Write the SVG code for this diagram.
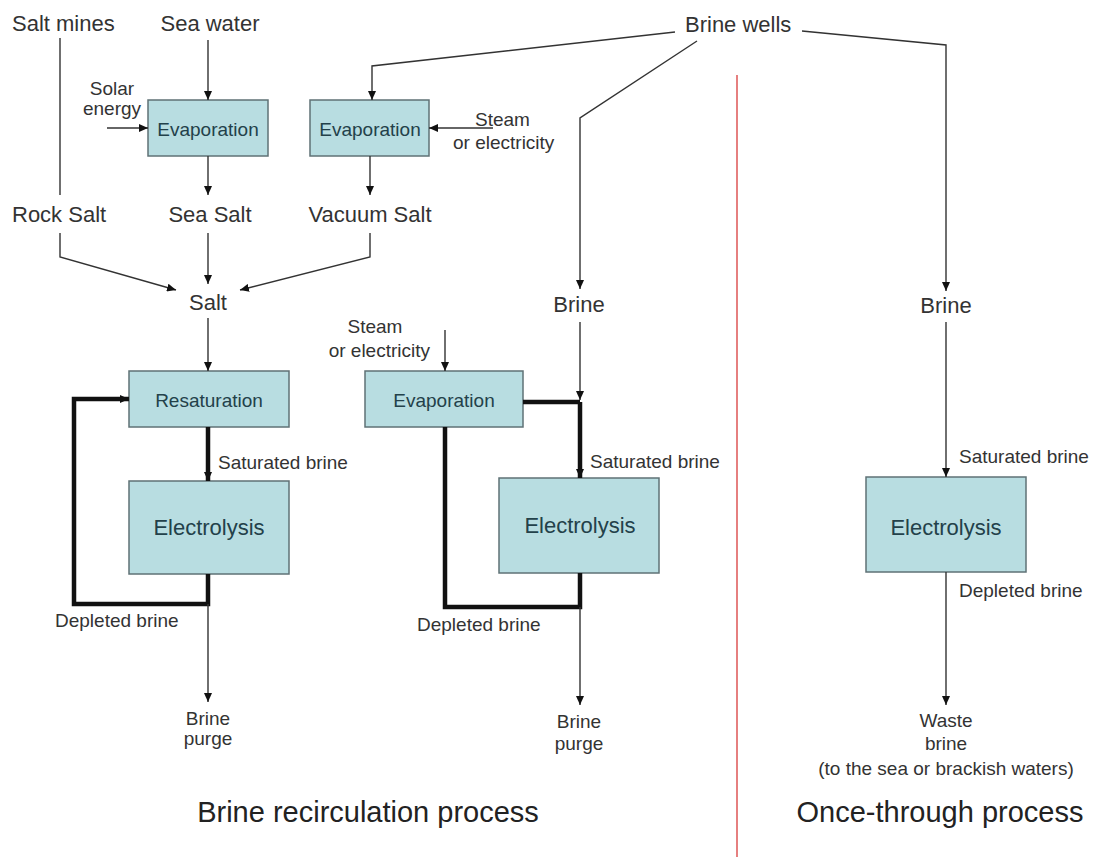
<svg xmlns="http://www.w3.org/2000/svg" width="1096" height="857" viewBox="0 0 1096 857">
  <style>
    text { font-family: "Liberation Sans", Arial, sans-serif; fill: #333; }
    .big { font-size: 22px; }
    .sm { font-size: 19px; }
    .title { font-size: 29px; fill: #222; }
    .box rect { fill: #b8dde1; stroke: #5f7276; stroke-width: 1.5; }
    .box text { fill: #23414a; text-anchor: middle; }
    .lbl { font-size: 19px; }
    .elec { font-size: 22px; }
    .mid { text-anchor: middle; }
    .end { text-anchor: end; }
    .thin { fill: none; stroke: #333; stroke-width: 1.4; }
    .thick { fill: none; stroke: #111; stroke-width: 4.5; stroke-linejoin: miter; }
    .arr { marker-end: url(#ah); }
  </style>
  <defs>
    <marker id="ah" markerUnits="userSpaceOnUse" markerWidth="10" markerHeight="8" refX="9" refY="4" orient="auto">
      <path d="M0,0 L9,4 L0,8 z" fill="#111"/>
    </marker>
  </defs>

  <rect width="1096" height="857" fill="#fff"/>

  <!-- divider between the two processes -->
  <line x1="737" y1="75" x2="737" y2="857" stroke="#e06060" stroke-width="1.6"/>

  <!-- source and product labels -->
  <g id="salt-mines"><text class="big" x="12" y="31">Salt mines</text></g>
  <g id="sea-water"><text class="big mid" x="210" y="31">Sea water</text></g>
  <g id="brine-wells"><text class="big" x="685" y="32">Brine wells</text></g>
  <g id="solar-energy">
    <text class="sm mid" x="112" y="95">Solar</text>
    <text class="sm mid" x="112" y="115">energy</text>
  </g>
  <g id="steam-1">
    <text class="sm" x="475" y="126">Steam</text>
    <text class="sm" x="453" y="149">or electricity</text>
  </g>
  <g id="rock-salt"><text class="big" x="12" y="222">Rock Salt</text></g>
  <g id="sea-salt"><text class="big mid" x="210" y="222">Sea Salt</text></g>
  <g id="vacuum-salt"><text class="big mid" x="370" y="222">Vacuum Salt</text></g>
  <g id="salt"><text class="big mid" x="208" y="310">Salt</text></g>
  <g id="brine-mid"><text class="big mid" x="579" y="312">Brine</text></g>
  <g id="brine-right"><text class="big mid" x="946" y="313">Brine</text></g>
  <g id="steam-2">
    <text class="sm mid" x="375" y="333">Steam</text>
    <text class="sm end" x="430" y="357">or electricity</text>
  </g>

  <!-- process boxes -->
  <g id="evaporation-1" class="box">
    <rect x="148" y="100" width="120" height="56"/>
    <text class="lbl" x="208" y="136">Evaporation</text>
  </g>
  <g id="evaporation-2" class="box">
    <rect x="310" y="100" width="119" height="56"/>
    <text class="lbl" x="370" y="136">Evaporation</text>
  </g>
  <g id="resaturation" class="box">
    <rect x="129" y="371" width="160" height="56"/>
    <text class="lbl" x="209" y="407">Resaturation</text>
  </g>
  <g id="evaporation-3" class="box">
    <rect x="365" y="371" width="158" height="56"/>
    <text class="lbl" x="444" y="407">Evaporation</text>
  </g>
  <g id="electrolysis-1" class="box">
    <rect x="129" y="481" width="160" height="93"/>
    <text class="elec" x="209" y="535">Electrolysis</text>
  </g>
  <g id="electrolysis-2" class="box">
    <rect x="499" y="478" width="160" height="95"/>
    <text class="elec" x="580" y="533">Electrolysis</text>
  </g>
  <g id="electrolysis-3" class="box">
    <rect x="866" y="477" width="160" height="95"/>
    <text class="elec" x="946" y="535">Electrolysis</text>
  </g>

  <!-- stream labels -->
  <g id="sat-brine-1"><text class="sm" x="218" y="469">Saturated brine</text></g>
  <g id="sat-brine-2"><text class="sm" x="590" y="468">Saturated brine</text></g>
  <g id="sat-brine-3"><text class="sm" x="959" y="463">Saturated brine</text></g>
  <g id="dep-brine-1"><text class="sm" x="55" y="627">Depleted brine</text></g>
  <g id="dep-brine-2"><text class="sm" x="417" y="631">Depleted brine</text></g>
  <g id="dep-brine-3"><text class="sm" x="959" y="597">Depleted brine</text></g>
  <g id="purge-1">
    <text class="sm mid" x="208" y="725">Brine</text>
    <text class="sm mid" x="208" y="745">purge</text>
  </g>
  <g id="purge-2">
    <text class="sm mid" x="579" y="728">Brine</text>
    <text class="sm mid" x="579" y="750">purge</text>
  </g>
  <g id="waste-brine">
    <text class="sm mid" x="946" y="727">Waste</text>
    <text class="sm mid" x="946" y="750">brine</text>
    <text class="sm mid" x="946" y="775">(to the sea or brackish waters)</text>
  </g>

  <!-- section titles -->
  <g id="title-recirculation"><text class="title mid" x="368" y="822">Brine recirculation process</text></g>
  <g id="title-once-through"><text class="title mid" x="940" y="822">Once-through process</text></g>

  <!-- connectors -->
  <g id="connectors">
    <!-- top section -->
    <line class="thin" x1="60" y1="38" x2="60" y2="195"/>
    <line class="thin arr" x1="208" y1="40" x2="208" y2="100"/>
    <line class="thin arr" x1="107" y1="128" x2="148" y2="128"/>
    <line class="thin arr" x1="208" y1="156" x2="208" y2="195"/>
    <line class="thin arr" x1="370" y1="156" x2="370" y2="195"/>
    <line class="thin arr" x1="493" y1="128" x2="429" y2="128"/>
    <polyline class="thin arr" points="675,32 372,66 372,100"/>
    <polyline class="thin arr" points="697,41 580,118 580,289"/>
    <polyline class="thin arr" points="802,31 946,45 946,291"/>

    <!-- salt gathering -->
    <polyline class="thin arr" points="60,233 60,257 176,290"/>
    <line class="thin arr" x1="208" y1="233" x2="208" y2="284"/>
    <polyline class="thin arr" points="370,233 370,257 240,290"/>
    <line class="thin arr" x1="208" y1="318" x2="208" y2="371"/>

    <!-- left recirculation loop -->
    <line class="thick arr" x1="208" y1="427" x2="208" y2="481"/>
    <polyline class="thick arr" points="208,574 208,604 74,604 74,399 129,399"/>
    <line class="thin arr" x1="208" y1="604" x2="208" y2="702"/>

    <!-- middle recirculation loop -->
    <line class="thin arr" x1="445" y1="330" x2="445" y2="371"/>
    <line class="thin arr" x1="580" y1="322" x2="580" y2="400"/>
    <polyline class="thick" points="523,402 580,402"/>
    <line class="thick arr" x1="580" y1="402" x2="580" y2="478"/>
    <polyline class="thick" points="580,573 580,607 445,607 445,427"/>
    <line class="thin arr" x1="580" y1="607" x2="580" y2="705"/>

    <!-- once-through -->
    <line class="thin arr" x1="946" y1="322" x2="946" y2="477"/>
    <line class="thin arr" x1="946" y1="572" x2="946" y2="705"/>
  </g>
</svg>
